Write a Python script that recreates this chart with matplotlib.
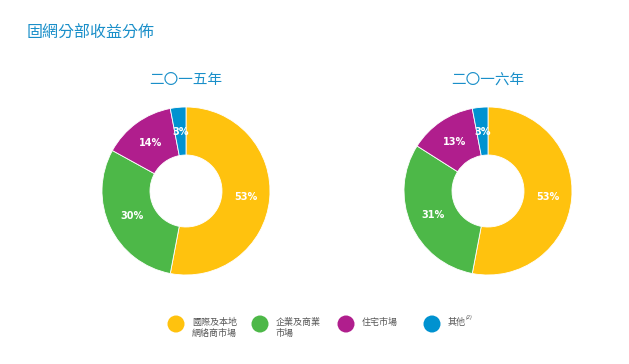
import matplotlib
matplotlib.use('Agg')
import matplotlib.pyplot as plt

plt.rcParams['font.family'] = ['Noto Sans CJK TC', 'DejaVu Sans']

title = '固網分部收益分佈'
years = ['二〇一五年', '二〇一六年']
categories = ['國際及本地\n網絡商市場', '企業及商業\n市場', '住宅市場', '其他']
values_2015 = [53, 30, 14, 3]
values_2016 = [53, 31, 13, 3]
colors = ['#FFC20E', '#4DB848', '#B01E8D', '#0092D0']

W, H = 629, 364
fig = plt.figure(figsize=(W / 100, H / 100), dpi=100)

# overlay axes in pixel coords for text and legend
bg = fig.add_axes([0, 0, 1, 1])
bg.set_xlim(0, W)
bg.set_ylim(H, 0)
bg.axis('off')

bg.text(27, 33, title, color='#1a8fc9', fontsize=11.5, ha='left', va='center')

outer_r = 84
inner_r = 36
centers = [(186, 191), (488, 191)]

for (cx, cy), year, vals in zip(centers, years, [values_2015, values_2016]):
    ax = fig.add_axes([(cx - outer_r) / W, (H - cy - outer_r) / H,
                       2 * outer_r / W, 2 * outer_r / H])
    ax.pie(vals, colors=colors, startangle=90, counterclock=False, radius=1,
           autopct=lambda p: f'{round(p)}%', pctdistance=0.71,
           wedgeprops=dict(width=1 - inner_r / outer_r, edgecolor='white', linewidth=0.6),
           textprops=dict(color='white', fontsize=7, fontweight='bold', family='DejaVu Sans'))
    ax.set_xlim(-1, 1)
    ax.set_ylim(-1, 1)
    ax.set_aspect('auto')
    bg.text(cx, 80, year, color='#1a8fc9', fontsize=10.5, ha='center', va='center')

# legend
leg_x = [176, 260, 346, 432]
leg_y = 324
for x, c, lab in zip(leg_x, colors, categories):
    bg.scatter([x], [leg_y], s=150, color=c, edgecolors='none')
    bg.text(x + 16, leg_y - 6, lab, color='#555555', fontsize=6.5, ha='left', va='top',
            linespacing=1.3)
bg.text(466, leg_y - 4, '(2)', color='#555555', fontsize=3.5, style='italic',
        ha='left', va='bottom', family='DejaVu Sans')

fig.savefig('out.png', dpi=100)
